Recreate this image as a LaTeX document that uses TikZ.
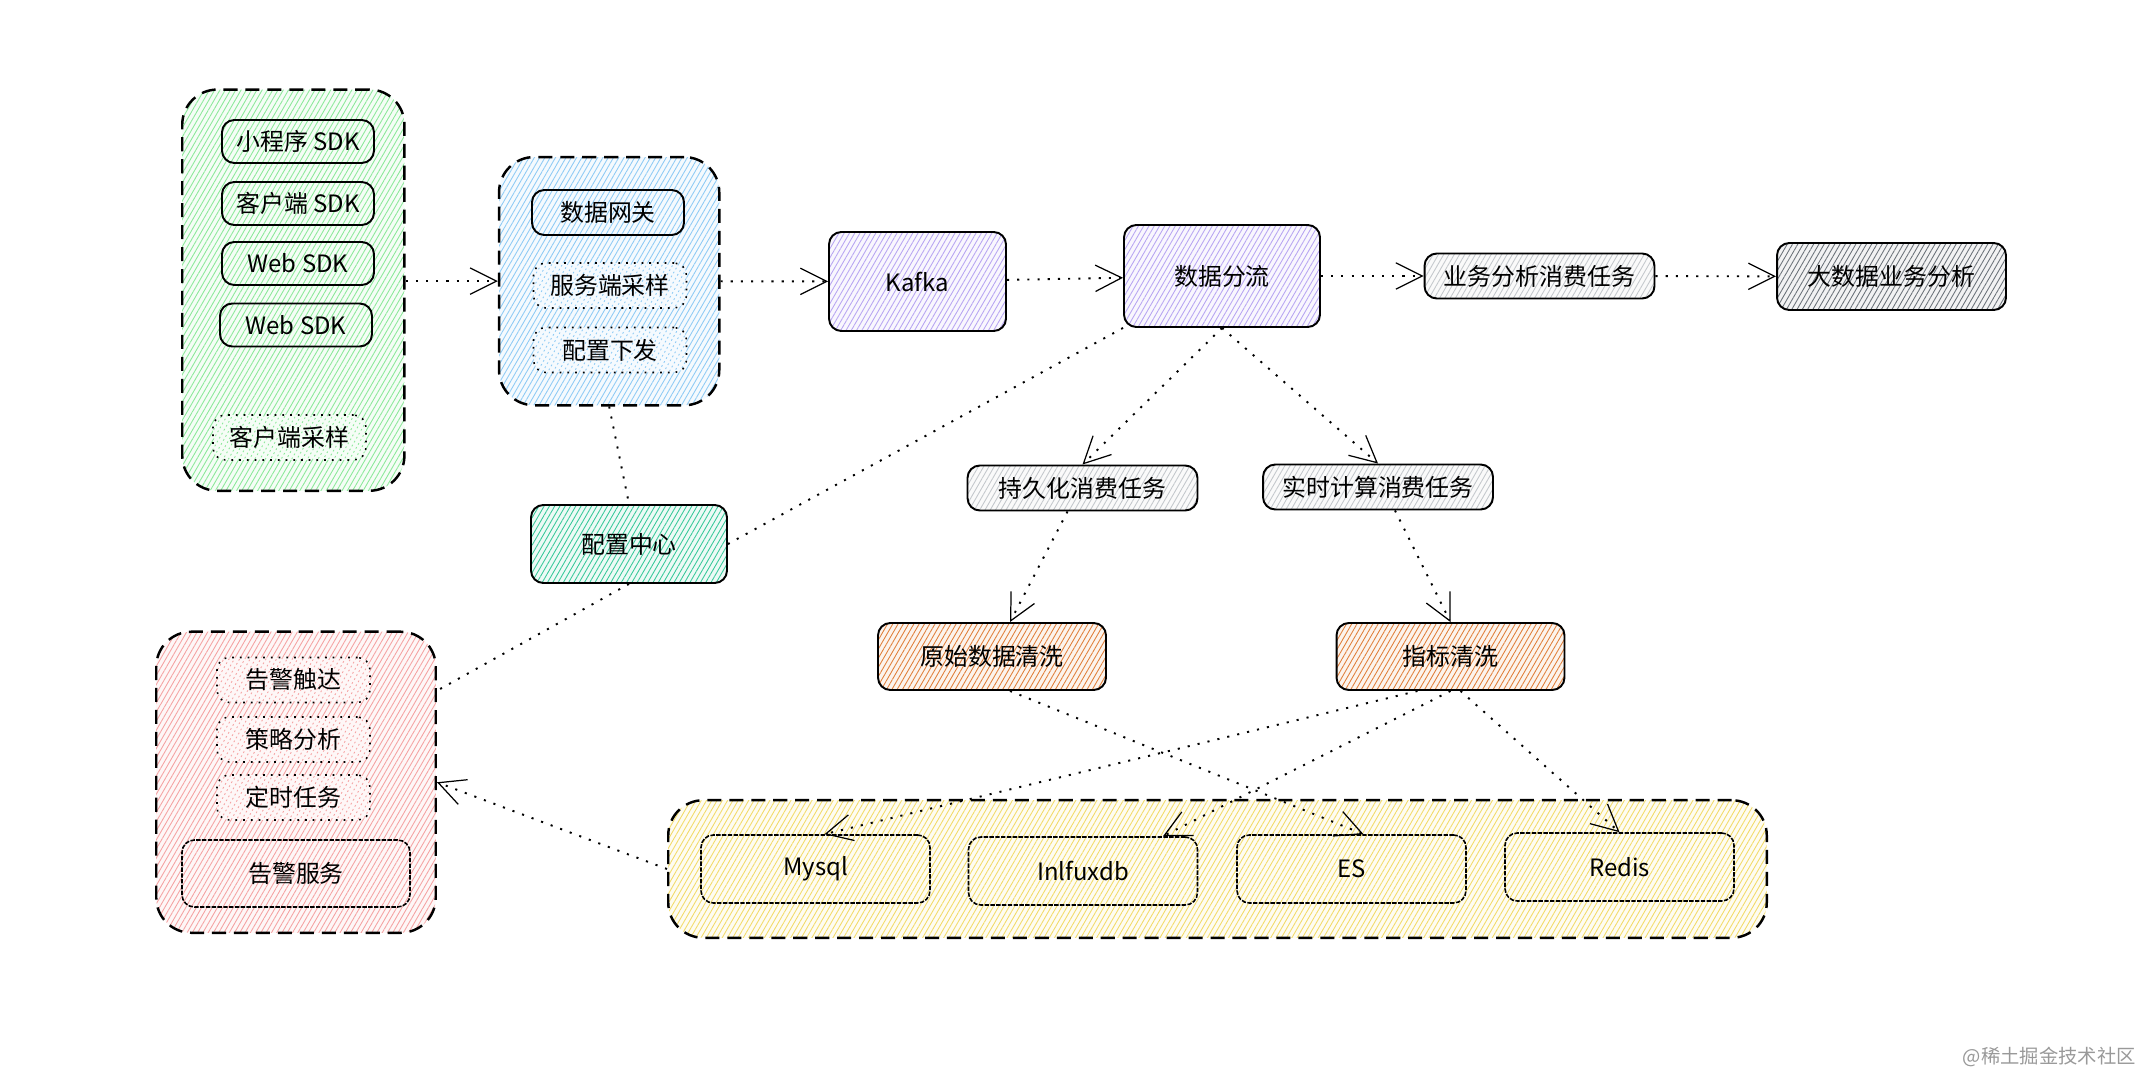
\documentclass[tikz,border=0pt]{standalone}
\usepackage{fontspec}
\setmainfont{Noto Sans CJK SC}
\usepackage{tikz}
\usetikzlibrary{positioning,arrows.meta,fit,backgrounds,patterns.meta}
\definecolor{grnhatch}{HTML}{8CE99A}
\definecolor{bluhatch}{HTML}{8FCBF5}
\definecolor{purhatch}{HTML}{B8A6F2}
\definecolor{tealhatch}{HTML}{38C99A}
\definecolor{gryhatch}{HTML}{C4C8CC}
\definecolor{drkhatch}{HTML}{6C737A}
\definecolor{orghatch}{HTML}{E0803C}
\definecolor{pnkhatch}{HTML}{F5A3A3}
\definecolor{ylwhatch}{HTML}{F2DB6A}
\tikzset{
  hatch/.style={preaction={fill=#1!9}, pattern={Lines[angle=60,distance=2.6pt,line width=0.5pt]}, pattern color=#1},
  box/.style={draw, line width=1.1pt, rounded corners=7pt, font=\fontsize{13.6}{16}\selectfont, inner sep=2pt, align=center},
  sdk/.style={box, minimum width=3.04cm, minimum height=0.86cm, hatch=grnhatch},
  dotbox/.style={box, line width=0.9pt, dash pattern=on 1pt off 3.4pt, minimum width=3.06cm, minimum height=0.9cm},
  bigbox/.style={box, minimum width=3.92cm, minimum height=2.04cm, hatch=purhatch},
  task/.style={box, minimum width=4.6cm, minimum height=0.9cm, hatch=gryhatch},
  clean/.style={box, minimum width=4.56cm, minimum height=1.34cm, hatch=orghatch},
  db/.style={box, line width=0.9pt, dash pattern=on 2.5pt off 0.8pt, minimum width=4.58cm, minimum height=1.36cm, hatch=ylwhatch},
  grp/.style={draw, line width=1.4pt, dash pattern=on 8pt off 4.5pt, rounded corners=20pt},
  flow/.style={line width=1.1pt, dash pattern=on 1.2pt off 4.6pt, -{Straight Barb[length=15pt,width=15pt,line width=0.7pt]}},
  link/.style={line width=1.1pt, dash pattern=on 1.2pt off 4.6pt},
}

\begin{document}
\begin{tikzpicture}[x=0.02cm, y=-0.02cm]
\useasboundingbox (0,0) rectangle (2148,1074);
\node[sdk] (mini) at (298,141.5) {小程序 SDK};
\node[sdk] (app)  at (298,203.5) {客户端 SDK};
\node[sdk] (web1) at (298,263.5) {Web SDK};
\node[sdk] (web2) at (296,325) {Web SDK};
\node[dotbox, hatch=grnhatch] (csample) at (289.5,437.5) {客户端采样};
\node[box, minimum width=3.04cm, minimum height=0.9cm, hatch=bluhatch] (gateway) at (608,212.5) {数据网关};
\node[dotbox, hatch=bluhatch] (ssample) at (610,285.5) {服务端采样};
\node[dotbox, hatch=bluhatch] (dispatch) at (610,350) {配置下发};
\node[bigbox, minimum width=3.54cm, minimum height=1.98cm] (kafka) at (917.5,281.5) {Kafka};
\node[bigbox] (fenliu) at (1222,276) {数据分流};
\node[task] (yewu) at (1539.5,276) {业务分析消费任务};
\node[box, minimum width=4.58cm, minimum height=1.34cm, hatch=drkhatch] (dashuju) at (1891.5,276.5) {大数据业务分析};
\node[task] (chijiu) at (1082.5,488) {持久化消费任务};
\node[task] (shishi) at (1378,487) {实时计算消费任务};
\node[box, minimum width=3.92cm, minimum height=1.56cm, hatch=tealhatch] (peizhi) at (629,544) {配置中心};
\node[clean] (yuanshi) at (992,656.5) {原始数据清洗};
\node[clean] (zhibiao) at (1450.5,656.5) {指标清洗};
\node[dotbox, hatch=pnkhatch] (touch)  at (293.5,680) {告警触达};
\node[dotbox, hatch=pnkhatch] (policy) at (293.5,739.5) {策略分析};
\node[dotbox, hatch=pnkhatch] (timer)  at (293.5,797.5) {定时任务};
\node[db, minimum width=4.56cm, minimum height=1.34cm, hatch=pnkhatch] (alarmsvc) at (296,873.5) {告警服务};
\node[db] (mysql)  at (815.5,869) {Mysql};
\node[db] (influx) at (1083,871) {Inlfuxdb};
\node[db] (es)     at (1351.5,869) {ES};
\node[db] (redis)  at (1619.5,867) {Redis};
\node[font=\fontsize{11}{13}\selectfont, text=black!40, anchor=east] (mark) at (2142,1057) {@稀土掘金技术社区};
\begin{scope}[on background layer]
\node[grp, hatch=grnhatch, fit=(mini)(web2)(csample), inner sep=0.6cm] (client) {};
\node[grp, hatch=bluhatch, fit=(gateway)(ssample)(dispatch), inner sep=0.64cm] (server) {};
\node[grp, hatch=pnkhatch, fit=(touch)(timer)(alarmsvc), inner sep=0.5cm] (alarm) {};
\node[grp, hatch=ylwhatch, fit=(mysql)(influx)(es)(redis), inner sep=0.64cm] (storage) {};
\end{scope}
\draw[flow] (client.east |- server.west) -- (server.west);
\draw[flow] (server) -- (kafka);
\draw[flow] (kafka) -- (fenliu);
\draw[flow] (fenliu) -- (yewu);
\draw[flow] (yewu) -- (dashuju);
\draw[flow] (fenliu.south) -- (chijiu.north);
\draw[flow] (fenliu.south) -- (shishi.north);
\draw[flow] ([xshift=-0.3cm]chijiu.south) -- ([xshift=0.36cm]yuanshi.north);
\draw[flow] ([xshift=0.34cm]shishi.south) -- (zhibiao.north);
\draw[flow] ([xshift=0.36cm]yuanshi.south) -- ([xshift=0.24cm]es.north);
\draw[flow] ([xshift=-0.66cm]zhibiao.south) -- ([xshift=0.18cm]mysql.north);
\draw[flow] (zhibiao.south) -- ([xshift=1.6cm]influx.north);
\draw[flow] ([xshift=0.2cm]zhibiao.south) -- (redis.north);
\draw[link] (server.south) -- (peizhi.north);
\draw[link] (fenliu.south west) -- (peizhi.east);
\draw[link] (peizhi.south) -- (alarm.33);
\draw[flow] (storage.west) -- (alarm.east);
\end{tikzpicture}
\end{document}
